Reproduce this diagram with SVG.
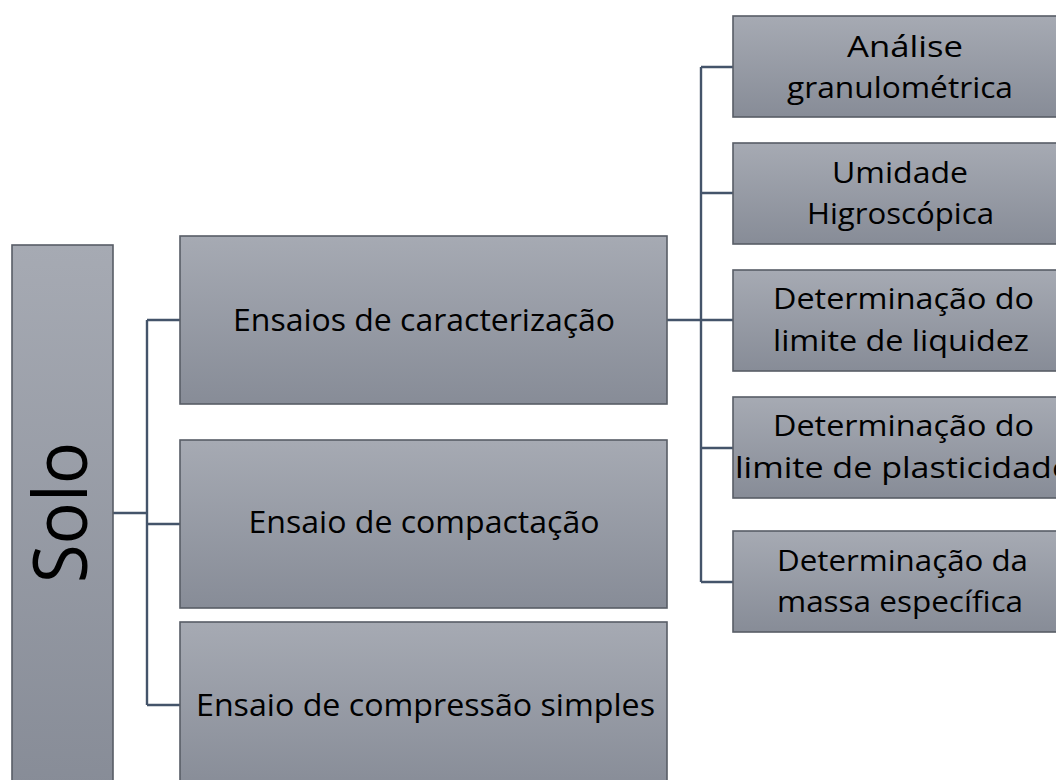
<svg xmlns="http://www.w3.org/2000/svg" width="1056" height="780" viewBox="0 0 1056 780">
<defs>
<linearGradient id="g" x1="0" y1="0" x2="0" y2="1">
<stop offset="0" stop-color="#a6aab3"/>
<stop offset="1" stop-color="#878c97"/>
</linearGradient>
<style>
.box{fill:url(#g);stroke:#585d66;stroke-width:1.6}
.t{font-family:"Open Sans","Noto Sans","DejaVu Sans",sans-serif;fill:#000;text-anchor:middle}
.m{font-size:31px}
.r{font-size:28.5px}
.c{fill:none;stroke:#44546a;stroke-width:2.4}
</style>
</defs>
<rect width="1056" height="780" fill="#fff"/>
<g id="connectors">
<path class="c" d="M113 513H147M147 320V705M147 320H180M147 524H180M147 705H180"/>
<path class="c" d="M667 320H733M701 67V582M701 67H733M701 193H733M701 448H733M701 582H733"/>
</g>
<g id="solo">
<rect class="box" x="12" y="245" width="101" height="545"/>
<text class="t" font-size="75" transform="translate(87,512.5) rotate(-90)" textLength="141" lengthAdjust="spacingAndGlyphs">Solo</text>
</g>
<g id="caracterizacao">
<rect class="box" x="180" y="236" width="487" height="168"/>
<text class="t m" x="424" y="331" textLength="382" lengthAdjust="spacingAndGlyphs">Ensaios de caracterização</text>
</g>
<g id="compactacao">
<rect class="box" x="180" y="440" width="487" height="168"/>
<text class="t m" x="424" y="533" textLength="351" lengthAdjust="spacingAndGlyphs">Ensaio de compactação</text>
</g>
<g id="compressao">
<rect class="box" x="180" y="622" width="487" height="168"/>
<text class="t m" x="425.5" y="716" textLength="459" lengthAdjust="spacingAndGlyphs">Ensaio de compressão simples</text>
</g>
<g id="granulometrica">
<rect class="box" x="733" y="16" width="334" height="101"/>
<text class="t r" x="905" y="57" textLength="116" lengthAdjust="spacingAndGlyphs">Análise</text>
<text class="t r" x="900" y="98" textLength="226" lengthAdjust="spacingAndGlyphs">granulométrica</text>
</g>
<g id="umidade">
<rect class="box" x="733" y="143" width="334" height="101"/>
<text class="t r" x="900" y="183" textLength="136" lengthAdjust="spacingAndGlyphs">Umidade</text>
<text class="t r" x="900.5" y="224" textLength="187" lengthAdjust="spacingAndGlyphs">Higroscópica</text>
</g>
<g id="liquidez">
<rect class="box" x="733" y="270" width="334" height="101"/>
<text class="t r" x="903.5" y="309" textLength="261" lengthAdjust="spacingAndGlyphs">Determinação do</text>
<text class="t r" x="901" y="351" textLength="256" lengthAdjust="spacingAndGlyphs">limite de liquidez</text>
</g>
<g id="plasticidade">
<rect class="box" x="733" y="397" width="334" height="101"/>
<text class="t r" x="903.5" y="436" textLength="261" lengthAdjust="spacingAndGlyphs">Determinação do</text>
<text class="t r" x="903" y="478" textLength="336" lengthAdjust="spacingAndGlyphs">limite de plasticidade</text>
</g>
<g id="massa">
<rect class="box" x="733" y="531" width="334" height="101"/>
<text class="t r" x="902.5" y="571" textLength="251" lengthAdjust="spacingAndGlyphs">Determinação da</text>
<text class="t r" x="900" y="612" textLength="246" lengthAdjust="spacingAndGlyphs">massa específica</text>
</g>
</svg>
